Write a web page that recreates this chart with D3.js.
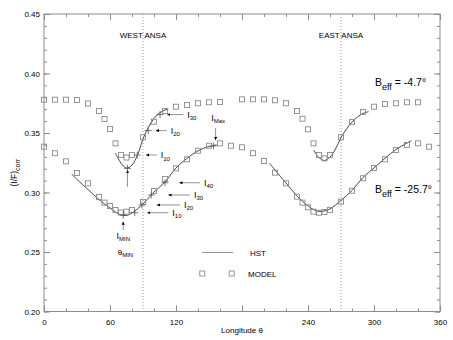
<!DOCTYPE html>
<html><head><meta charset="utf-8">
<script src="https://cdn.jsdelivr.net/npm/d3@7"></script>
<style>
body{margin:0;background:#fff;}
text{font-family:"Liberation Sans",Arial,sans-serif;fill:#000;}
</style></head>
<body><svg id="c" width="453" height="340"></svg>
<script>
// ---- data ----
const modelUpperX = [0,10,20,30,40,50,55,60,65,70,75,80,90,100,110,120,130,140,150,160,180,190,200,210,220,230,235,240,245,250,255,260,270,280,290,300,310,320,330,340];
const modelUpperY = [0.378,0.378,0.378,0.3777,0.3748,0.3685,0.3618,0.3534,0.3413,0.3315,0.3294,0.3315,0.3464,0.3595,0.3685,0.3721,0.3735,0.375,0.3758,0.3761,0.3783,0.3783,0.3783,0.3775,0.375,0.3685,0.362,0.3531,0.3413,0.3315,0.3287,0.3315,0.3464,0.3592,0.3677,0.3721,0.3744,0.375,0.3758,0.3758];
const modelLowerX = [0,10,20,30,40,50,55,60,65,70,75,80,90,100,110,120,130,140,150,160,170,180,190,200,210,220,230,235,240,245,250,255,260,270,280,290,300,310,320,330,340,350];
const modelLowerY = [0.3385,0.333,0.3262,0.3164,0.3077,0.2962,0.2915,0.2887,0.2853,0.2832,0.2839,0.2853,0.292,0.3013,0.3114,0.3203,0.3279,0.3351,0.3393,0.3413,0.3393,0.338,0.333,0.3265,0.3167,0.3077,0.2965,0.2915,0.2876,0.2839,0.283,0.2836,0.2853,0.2923,0.3015,0.312,0.3206,0.3279,0.3357,0.34,0.3413,0.3385];

const hstWestUpperX = [65,70,75,80,85,90,95,100,105,110,113];
const hstWestUpperY = [0.333,0.3247,0.3205,0.3231,0.3315,0.345,0.355,0.3622,0.3668,0.3693,0.370];
const hstWestLowerX = [25,30,40,50,60,65,70,75,80,90,100,110,120,130,140,150,157];
const hstWestLowerY = [0.3155,0.311,0.3025,0.2941,0.287,0.2836,0.2811,0.2807,0.2828,0.2904,0.3004,0.3088,0.3206,0.3287,0.335,0.3387,0.340];
const hstEastUpperX = [245,250,255,260,265,270,275,280,285,290,295];
const hstEastUpperY = [0.3357,0.3294,0.3269,0.3298,0.3366,0.3462,0.3534,0.3592,0.3635,0.3664,0.3679];
const hstEastLowerX = [205,210,220,230,240,245,250,255,260,270,280,290,300,310,320,330,334];
const hstEastLowerY = [0.3248,0.3189,0.308,0.2971,0.2887,0.2857,0.2841,0.2845,0.2862,0.2933,0.3017,0.3126,0.3206,0.3287,0.3361,0.3416,0.3435];

const xMajorTicks = [0,60,120,180,240,300,360];
const xTickLabels = [0,60,120,240,300,360];
const yTickLabels = [0.20,0.25,0.30,0.35,0.40,0.45];
const ansaLongitudes = [90,270];
const ansaLabels = ["WEST ANSA","EAST ANSA"];

// horizontal arrows: [subscript, level, fromLon, toLon, plusLon]
const arrowSub   = ["10","20","30","10","20","30","40"];
const arrowLevel = [0.3315,0.352,0.3655,0.283,0.2895,0.2979,0.3082];
const arrowFrom  = [102.5,111.5,126.6,113,123.6,132.7,141.8];
const arrowTo    = [92.7,101.8,112,93.9,102.5,113,123];
const arrowPlus  = [84.8,94.8,105.5,82.5,89,97.5,110];

// ---- layout ----
const svg = d3.select("#c");
const L=44, R=440, T=14, B=311.5;
const x = d3.scaleLinear().domain([0,360]).range([L,R]);
const y = d3.scaleLinear().domain([0.20,0.45]).range([B,T]);
const axisCol="#8c8c8c";

// frame
svg.append("rect").attr("x",L).attr("y",T).attr("width",R-L).attr("height",B-T)
  .attr("fill","none").attr("stroke",axisCol).attr("stroke-width",1);

function styleAxis(g){g.select(".domain").remove();g.selectAll("line").attr("stroke",axisCol);g.selectAll("text").attr("font-size","8px").attr("fill","#000");}
const xMinor = d3.range(0,361,20), yMinor = d3.range(0.20,0.4501,0.01);
svg.append("g").attr("transform",`translate(0,${B})`).call(d3.axisBottom(x).tickValues(xMinor).tickSize(-3).tickFormat("")).call(styleAxis);
svg.append("g").attr("transform",`translate(0,${B})`).call(d3.axisBottom(x).tickValues(xMajorTicks).tickSize(-6).tickFormat("")).call(styleAxis);
svg.append("g").attr("transform",`translate(0,${B})`).call(d3.axisBottom(x).tickValues(xTickLabels).tickSize(0).tickPadding(8).tickFormat(d3.format("d"))).call(styleAxis);
svg.append("g").attr("transform",`translate(0,${T})`).call(d3.axisTop(x).tickValues(xMinor).tickSize(-3).tickFormat("")).call(styleAxis);
svg.append("g").attr("transform",`translate(0,${T})`).call(d3.axisTop(x).tickValues(xMajorTicks).tickSize(-6).tickFormat("")).call(styleAxis);
svg.append("g").attr("transform",`translate(${L},0)`).call(d3.axisLeft(y).tickValues(yMinor).tickSize(-3).tickFormat("")).call(styleAxis);
svg.append("g").attr("transform",`translate(${L},0)`).call(d3.axisLeft(y).tickValues(yTickLabels).tickSize(-6).tickPadding(4).tickFormat(d3.format(".2f"))).call(styleAxis);
svg.append("g").attr("transform",`translate(${R},0)`).call(d3.axisRight(y).tickValues(yMinor).tickSize(-3).tickFormat("")).call(styleAxis);
svg.append("g").attr("transform",`translate(${R},0)`).call(d3.axisRight(y).tickValues(yTickLabels).tickSize(-6).tickFormat("")).call(styleAxis);

// axis titles
svg.append("text").attr("x",(L+R)/2).attr("y",333).attr("text-anchor","middle").attr("font-size","8px").text("Longitude  θ");
const yt = svg.append("text").attr("transform",`translate(17,${(T+B)/2+10}) rotate(-90)`).attr("text-anchor","middle").attr("font-size","8.5px");
yt.append("tspan").text("(I/F)");
yt.append("tspan").attr("font-size","7px").attr("dy",3).text("corr");

// ansa lines
svg.selectAll(".ansa").data(ansaLongitudes).join("line")
  .attr("x1",d=>x(d)).attr("x2",d=>x(d)).attr("y1",T).attr("y2",B)
  .attr("stroke","#999").attr("stroke-dasharray","1,2").attr("stroke-width",1);
svg.selectAll(".ansaT").data(ansaLabels).join("text")
  .attr("x",(d,i)=>x(ansaLongitudes[i])).attr("y",38).attr("text-anchor","middle").attr("font-size","8px").text(d=>d);

// HST curves
const line = d3.line().x(d=>x(d[0])).y(d=>y(d[1])).curve(d3.curveCatmullRom);
const curves = [[hstWestUpperX,hstWestUpperY],[hstWestLowerX,hstWestLowerY],[hstEastUpperX,hstEastUpperY],[hstEastLowerX,hstEastLowerY]];
curves.forEach(([xs,ys])=>{
  svg.append("path").datum(xs.map((v,i)=>[v,ys[i]])).attr("d",line)
    .attr("fill","none").attr("stroke","#333").attr("stroke-width",0.9);
});

// model squares
const sq=5;
function squares(xs,ys){
  svg.append("g").selectAll("rect").data(xs.map((v,i)=>[v,ys[i]])).join("rect")
    .attr("x",d=>x(d[0])-sq/2).attr("y",d=>y(d[1])-sq/2).attr("width",sq).attr("height",sq)
    .attr("fill","none").attr("stroke","#8a8a8a").attr("stroke-width",0.9);
}
squares(modelUpperX,modelUpperY);
squares(modelLowerX,modelLowerY);

// arrow marker
svg.append("defs").append("marker").attr("id","ah").attr("viewBox","0 0 6 6").attr("refX",6).attr("refY",3)
  .attr("markerWidth",4).attr("markerHeight",4).attr("orient","auto")
  .append("path").attr("d","M0,0L6,3L0,6Z").attr("fill","#000");

function plus(px,py){
  svg.append("path").attr("d",`M${px-3.5},${py}H${px+3.5}M${px},${py-3.5}V${py+3.5}`).attr("stroke","#555").attr("stroke-width",0.8);
}
function ilabel(px,py,sub){
  const t=svg.append("text").attr("x",px).attr("y",py).attr("font-size","9px");
  t.append("tspan").text("I");
  t.append("tspan").attr("font-size","6px").attr("dy",2.5).text(sub);
  return t;
}
arrowSub.forEach((s,i)=>{
  const yy=y(arrowLevel[i]);
  svg.append("line").attr("x1",x(arrowFrom[i])).attr("x2",x(arrowTo[i])).attr("y1",yy).attr("y2",yy)
    .attr("stroke","#777").attr("stroke-width",0.8).attr("marker-end","url(#ah)");
  plus(x(arrowPlus[i]),yy);
  ilabel(x(arrowFrom[i])+4,yy+3,s);
});

// vertical arrows: minima and maximum
const vArrowLon  = [75.9,72,156];
const vArrowFrom = [0.3049,0.2685,0.3542];
const vArrowTo   = [0.3189,0.2755,0.3441];
const vPlusY     = [0.3203,0.281,0.339];
vArrowLon.forEach((lon,i)=>{
  svg.append("line").attr("x1",x(lon)).attr("x2",x(lon)).attr("y1",y(vArrowFrom[i])).attr("y2",y(vArrowTo[i]))
    .attr("stroke","#777").attr("stroke-width",0.8).attr("marker-end","url(#ah)");
  plus(x(i==2?154:lon),y(vPlusY[i]));
});
ilabel(x(66),y(0.2612),"MIN");
ilabel(x(152),y(0.3605),"Max");
const th=svg.append("text").attr("x",x(67)).attr("y",y(0.2475)).attr("font-size","8px");
th.append("tspan").text("θ");
th.append("tspan").attr("font-size","6px").attr("dy",2.5).text("MIN");

// Beff labels
function beff(px,py,val){
  const t=svg.append("text").attr("x",px).attr("y",py).attr("font-size","10.5px");
  t.append("tspan").text("B");
  t.append("tspan").attr("font-size","9px").attr("dy",4).text("eff");
  t.append("tspan").attr("dy",-4).text(" = "+val+"°");
}
beff(375,86,"-4.7");
beff(375,193,"-25.7");

// legend
svg.append("line").attr("x1",202).attr("x2",233).attr("y1",252.5).attr("y2",252.5).attr("stroke","#888").attr("stroke-width",0.9);
svg.append("text").attr("x",250).attr("y",256).attr("font-size","8px").text("HST");
[202.3,231.7].forEach(px=>svg.append("rect").attr("x",px-sq/2).attr("y",273.5-sq/2).attr("width",sq).attr("height",sq)
  .attr("fill","none").attr("stroke","#8a8a8a").attr("stroke-width",0.9));
svg.append("text").attr("x",248).attr("y",276.5).attr("font-size","8px").text("MODEL");
</script></body></html>
